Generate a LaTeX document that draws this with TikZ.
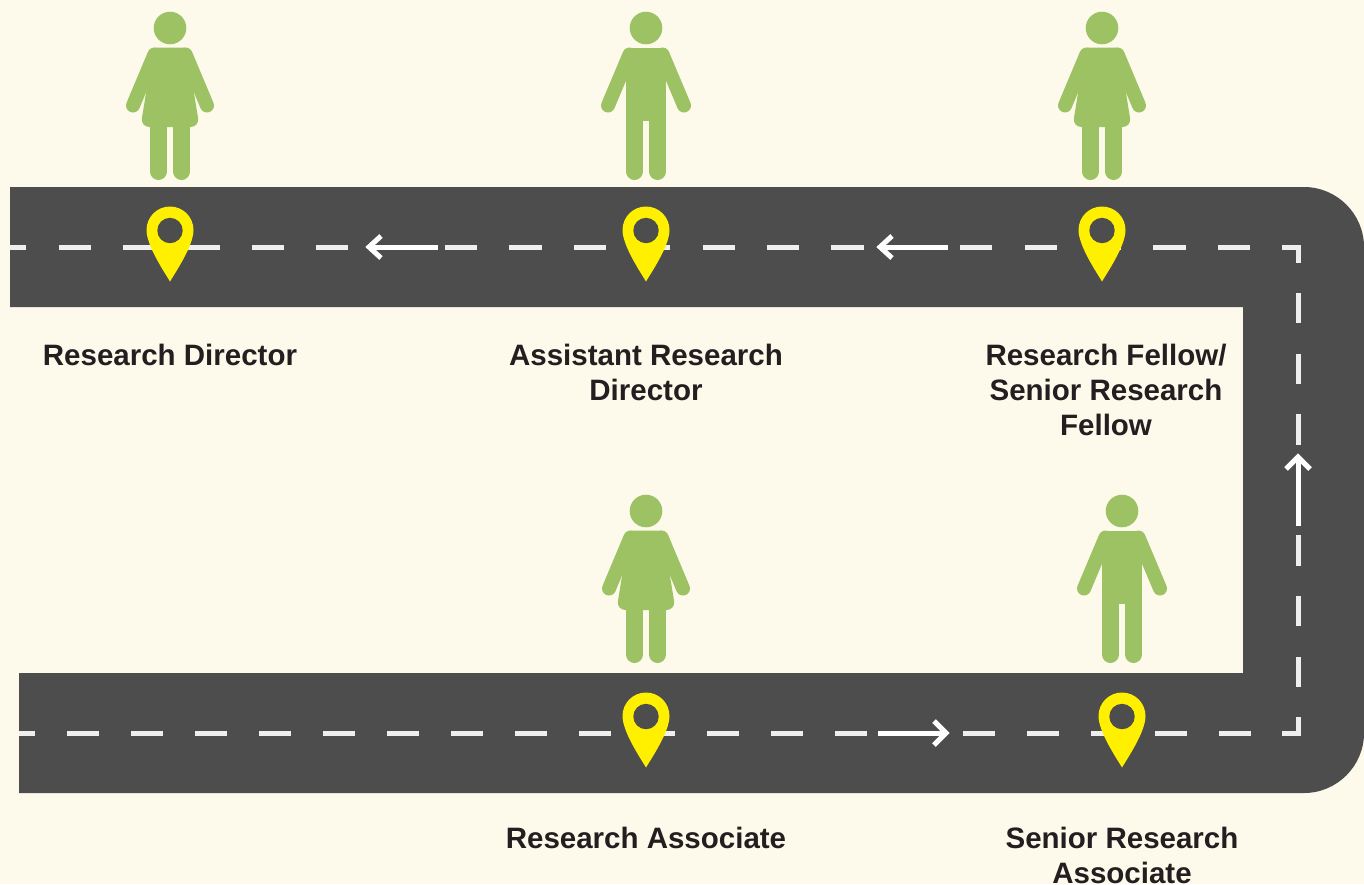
\documentclass[tikz,border=0pt]{standalone}
\usepackage{fontspec}
\setmainfont{Liberation Sans}
\definecolor{paper}{HTML}{FDFAEC}
\definecolor{asphalt}{HTML}{4D4D4D}
\definecolor{figgreen}{HTML}{9DC263}
\definecolor{pinyellow}{HTML}{FFF000}
\definecolor{labelink}{HTML}{231F20}
\definecolor{lanewhite}{HTML}{EFEFEF}
\tikzset{
  lane/.style={draw=lanewhite,line width=5pt},
  flow/.style={draw=white,line width=5pt,miter limit=10},
  labeltext/.style={text=labelink,font=\fontsize{29.5}{35}\selectfont\bfseries,align=center,anchor=north,inner sep=0pt},
  limb/.style={draw=figgreen,line cap=round},
  person head/.pic={\fill[figgreen] (0,28) circle[radius=16.3];},
  woman/.pic={
    \pic {person head};
    \draw[limb,line width=14pt] (-15.6,54.5) -- (-37,105.5);
    \draw[limb,line width=14pt] (15.6,54.5) -- (37,105.5);
    \fill[figgreen] (-15.6,47.5) -- (15.6,47.5) -- (24,93) [rounded corners=9pt] -- (29.5,127) -- (-29.5,127) [sharp corners] -- (-24,93) -- cycle;
    \draw[limb,line width=16.8pt] (-11.6,171.6) -- (-11.6,126);
    \draw[limb,line width=16.8pt] (11.6,171.6) -- (11.6,126);
  },
  man/.pic={
    \pic {person head};
    \draw[limb,line width=14pt] (-16.5,54.5) -- (-38,105.5);
    \draw[limb,line width=14pt] (16.5,54.5) -- (38,105.5);
    \fill[figgreen] (-20,50) -- (20,50) -- (20,121) -- (-20,121) -- cycle;
    \fill[figgreen] (-16.5,47.5) rectangle (16.5,55);
    \draw[limb,line width=16.8pt] (-11.6,171.6) -- (-11.6,120);
    \draw[limb,line width=16.8pt] (11.6,171.6) -- (11.6,120);
  },
  location/.pic={
    \fill[pinyellow] (0,51.5) .. controls (-5,43) and (-23.5,16) .. (-23.5,0)
      .. controls (-23.5,-13) and (-13,-23.5) .. (0,-23.5)
      .. controls (13,-23.5) and (23.5,-13) .. (23.5,0)
      .. controls (23.5,16) and (5,43) .. (0,51.5) -- cycle;
    \fill[asphalt] (0,0.5) circle[radius=12.7];
  }
}
\begin{document}
\begin{tikzpicture}[x=1pt,y=-1pt]
\useasboundingbox (0,0) rectangle (1364,884);
\fill[paper] (0,0) rectangle (1364,884);
% road
\fill[asphalt] (10,187) -- (1304,187) .. controls (1337,187) and (1364,214) .. (1364,247)
  -- (1364,733) .. controls (1364,766) and (1337,793) .. (1304,793)
  -- (19,793) -- (19,673) -- (1243,673) -- (1243,307) -- (10,307) -- cycle;
% lane markings
\draw[lane,dash pattern=on 32.2pt off 32.2pt] (1250,247) -- (10,247);
\draw[lane,dash pattern=on 30.4pt off 30.2pt] (1298,293) -- (1298,687);
\draw[lane,dash pattern=on 32pt off 32pt] (1251,733) -- (19,733);
\draw[lane] (1282,247) -- (1298,247) -- (1298,263);
\draw[lane] (1282,733) -- (1298,733) -- (1298,717);
% direction arrows
\draw[flow] (438,247) -- (369,247);
\draw[flow] (381,236) -- (369,247) -- (381,258);
\draw[flow] (948,247) -- (880,247);
\draw[flow] (892,236) -- (880,247) -- (892,258);
\draw[flow] (878,733) -- (946,733);
\draw[flow] (934,721) -- (946,733) -- (934,745);
\draw[flow] (1298,526) -- (1298,457);
\draw[flow] (1286,469) -- (1298,457) -- (1310,469);
% people
\pic at (170,0) {woman};
\pic at (646,0) {man};
\pic at (1102,0) {woman};
\pic at (646,483) {woman};
\pic at (1122,483) {man};
% pins
\pic at (170,230) {location};
\pic at (646,230) {location};
\pic at (1102,230) {location};
\pic at (646,716) {location};
\pic at (1122,716) {location};
% labels
\node[labeltext] (director) at (170,344) {Research Director};
\node[labeltext] (assistant) at (646,344) {Assistant Research\\Director};
\node[labeltext] (fellow) at (1106,344) {Research Fellow/\\Senior Research\\Fellow};
\node[labeltext] (associate) at (646,827) {Research Associate};
\node[labeltext] (senior) at (1122,827) {Senior Research\\Associate};
\end{tikzpicture}
\end{document}
